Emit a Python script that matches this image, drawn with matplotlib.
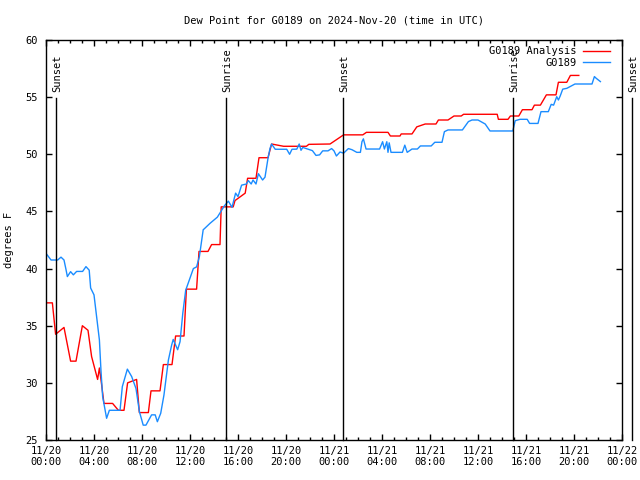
import matplotlib
matplotlib.use("Agg")
import matplotlib.pyplot as plt
from matplotlib.ticker import MultipleLocator

# ---- data (hours since 2024-11-20 00:00 UTC) ----
analysis_hours = [0.0, 0.53, 0.8, 1.5, 2.05, 2.5, 3.03, 3.5, 3.8, 4.3, 4.45, 4.64, 4.83, 5.55, 6.03,
                  6.5, 6.8, 7.55, 7.78, 8.53, 8.75, 9.5, 9.78, 10.5, 10.8, 11.5, 11.7, 12.55, 12.75,
                  13.5, 13.8, 14.5, 14.6, 15.6, 15.75, 16.6, 16.8, 17.5, 17.75, 18.5, 18.8, 19.8,
                  21.7, 21.9, 23.67, 24.8, 26.4, 26.7, 28.5, 28.7, 29.5, 29.6, 30.5, 30.9, 31.6,
                  32.5, 32.7, 33.5, 34.0, 34.6, 34.8, 37.6, 37.7, 38.5, 38.7, 39.4, 39.7, 40.5,
                  40.7, 41.2, 41.7, 42.5, 42.7, 43.4, 43.7, 44.4]
analysis_vals = [37.0, 37.0, 34.25, 34.85, 31.9, 31.9, 35.0, 34.6, 32.3, 30.3, 31.3, 29.8, 28.2, 28.2, 27.6,
                 27.6, 30.0, 30.3, 27.4, 27.4, 29.3, 29.3, 31.6, 31.6, 34.1, 34.1, 38.2, 38.2, 41.5,
                 41.5, 42.1, 42.1, 45.4, 45.4, 45.95, 46.6, 47.9, 47.9, 49.7, 49.7, 50.9, 50.7,
                 50.7, 50.87, 50.9, 51.7, 51.7, 51.92, 51.92, 51.6, 51.6, 51.78, 51.78, 52.4, 52.65,
                 52.65, 53.0, 53.0, 53.35, 53.35, 53.5, 53.5, 53.06, 53.06, 53.35, 53.35, 53.9, 53.9,
                 54.3, 54.3, 55.2, 55.2, 56.3, 56.3, 56.9, 56.9]

obs_hours = [0.0, 0.42, 0.97, 1.25, 1.5, 1.67, 1.78, 2.05, 2.28, 2.55, 3.05, 3.33, 3.6, 3.72, 4.0,
             4.17, 4.45, 4.58, 4.72, 5.05, 5.28, 6.17, 6.36, 6.78, 7.14, 7.5, 7.78, 8.1, 8.33,
             8.8, 9.1, 9.28, 9.56, 9.83, 10.2, 10.47, 10.6, 10.97, 11.17, 11.4, 11.64, 11.94,
             12.28, 12.55, 12.78, 13.1, 13.17, 13.67, 14.28, 14.56, 14.86, 15.2, 15.5, 15.8,
             16.0, 16.3, 16.7, 16.86, 17.1, 17.25, 17.5, 17.7, 18.05, 18.25, 18.5, 18.67, 18.8,
             19.1, 20.06, 20.3, 20.5, 20.9, 21.1, 21.25, 21.4, 21.86, 22.2, 22.5, 22.8, 23.06,
             23.5, 23.8, 24.0, 24.2, 24.5, 24.8, 25.2, 25.5, 25.9, 26.2, 26.33, 26.45, 26.67,
             27.8, 28.05, 28.2, 28.4, 28.5, 28.6, 28.75, 29.7, 29.9, 30.1, 30.5, 30.95, 31.2,
             32.1, 32.4, 33.0, 33.2, 33.5, 34.7, 35.2, 35.5, 36.0, 36.6, 37.0, 38.9, 39.1,
             39.5, 40.1, 40.3, 41.0, 41.25, 41.86, 42.1, 42.3, 42.56, 42.7, 42.85, 43.06, 43.4,
             44.08, 45.5, 45.7, 45.85, 46.2]
obs_vals = [41.33, 40.75, 40.75, 41.0, 40.75, 39.9, 39.3, 39.73, 39.45, 39.75, 39.75, 40.17, 39.86, 38.3, 37.7,
            36.2, 33.75, 31.1, 28.8, 26.9, 27.6, 27.6, 29.67, 31.2, 30.55, 29.5, 27.5, 26.3, 26.3,
            27.2, 27.2, 26.6, 27.34, 28.94, 32.0, 33.3, 33.8, 32.9, 33.6, 36.1, 38.1, 39.0,
            40.0, 40.15, 41.04, 43.4, 43.46, 43.96, 44.5, 44.98, 45.48, 45.9, 45.36, 46.6,
            46.3, 47.3, 47.4, 47.7, 47.4, 47.75, 47.4, 48.3, 47.75, 48.0, 49.65, 50.52, 50.9,
            50.44, 50.44, 50.0, 50.44, 50.45, 50.9, 50.35, 50.6, 50.44, 50.32, 49.9, 49.95, 50.3,
            50.3, 50.5, 50.3, 49.85, 50.2, 50.1, 50.5, 50.4, 50.17, 50.17, 51.1, 51.35, 50.46,
            50.46, 51.1, 50.46, 51.1, 50.17, 51.0, 50.17, 50.17, 50.8, 50.17, 50.46, 50.46, 50.73,
            50.73, 51.05, 51.05, 51.98, 52.13, 52.13, 52.86, 53.0, 53.0, 52.65, 52.04, 52.04, 52.94,
            53.06, 53.06, 52.7, 52.7, 53.73, 53.73, 54.37, 54.3, 55.04, 54.75, 55.1, 55.7, 55.77,
            56.15, 56.15, 56.8, 56.65, 56.36]

sun_hours = [0.81, 15.0, 24.78, 38.94, 48.8]
sun_labels = ["Sunset", "Sunrise", "Sunset", "Sunrise", "Sunset"]

xtick_hours = [0, 4, 8, 12, 16, 20, 24, 28, 32, 36, 40, 44, 48]
xtick_labels = ["11/20\n00:00", "11/20\n04:00", "11/20\n08:00", "11/20\n12:00", "11/20\n16:00",
                "11/20\n20:00", "11/21\n00:00", "11/21\n04:00", "11/21\n08:00", "11/21\n12:00",
                "11/21\n16:00", "11/21\n20:00", "11/22\n00:00"]

title = "Dew Point for G0189 on 2024-Nov-20 (time in UTC)"
ylabel = "degrees F"

# ---- plotting ----
plt.rcParams['font.family'] = ['DejaVu Sans Mono']
fig = plt.figure(figsize=(6.4, 4.8), dpi=100)
ax = fig.add_axes([46 / 640, 40 / 480, 576 / 640, 400 / 480])

red = '#ff0000'
blue = '#1a8cff'
ax.plot(analysis_hours, analysis_vals, color=red, lw=1.0, label="G0189 Analysis")
ax.plot(obs_hours, obs_vals, color=blue, lw=1.0, label="G0189")

ax.set_xlim(0, 48)
ax.set_ylim(25, 60)

line_top = 54.93
for h, lab in zip(sun_hours, sun_labels):
    ax.plot([h, h], [25, line_top], color='black', lw=1.0, clip_on=False)
    ax.text(h + 0.1, line_top + 0.5, lab, rotation=90, ha='center', va='bottom',
            fontsize=7.5, clip_on=False)

ax.set_xticks(xtick_hours)
ax.set_xticklabels(xtick_labels, fontsize=7.5)
ax.xaxis.set_minor_locator(MultipleLocator(1))
ax.yaxis.set_major_locator(MultipleLocator(5))
ax.tick_params(axis='both', which='major', direction='in', length=4, width=1,
               top=True, right=True, labelsize=7.5, pad=4)
ax.tick_params(axis='x', which='minor', direction='in', length=2, width=1,
               top=True, bottom=True)
ax.tick_params(axis='y', which='major', pad=6)

for s in ax.spines.values():
    s.set_linewidth(1.0)

ax.set_title(title, fontsize=7.5, pad=12)
ax.set_ylabel(ylabel, fontsize=7.5, labelpad=8)

leg = ax.legend(loc='upper right', frameon=False, markerfirst=False, fontsize=7.5,
                handlelength=2.6, handletextpad=0.6, labelspacing=0.15,
                borderaxespad=0.2, bbox_to_anchor=(0.99, 1.0))
for t in leg.get_texts():
    t.set_ha('right')

fig.savefig("out.png", dpi=100)
